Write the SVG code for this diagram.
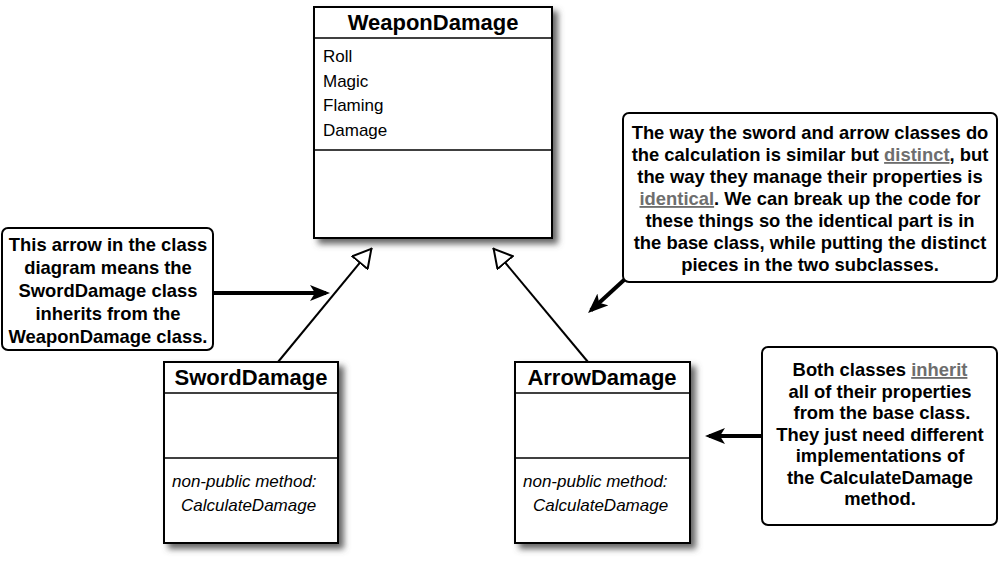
<svg xmlns="http://www.w3.org/2000/svg" width="1000" height="563" viewBox="0 0 1000 563">
  <style>
    .cls { fill: #fff; stroke: #000; stroke-width: 2; }
    .div { stroke: #000; stroke-width: 1.5; }
    .title { font-family: "Liberation Sans", Arial, sans-serif; font-weight: bold; font-size: 22px; text-anchor: middle; fill: #000; }
    .attr { font-family: "Liberation Sans", Arial, sans-serif; font-size: 17px; fill: #000; }
    .meth { font-family: "Liberation Sans", Arial, sans-serif; font-style: italic; font-size: 17px; fill: #000; }
    .callout { fill: #fff; stroke: #000; stroke-width: 2; }
    .note { font-family: "Liberation Sans", Arial, sans-serif; font-weight: bold; font-size: 18.4px; text-anchor: middle; fill: #000; }
    .ul { fill: #6e6e6e; text-decoration: underline; }
    .inh { stroke: #000; stroke-width: 2; fill: none; }
    .thick { stroke: #000; stroke-width: 4; fill: none; }
  </style>
  <defs>
    <filter id="shadow" x="-10%" y="-10%" width="130%" height="130%">
      <feGaussianBlur in="SourceAlpha" stdDeviation="3"/>
      <feOffset dx="5" dy="5" result="b"/>
      <feFlood flood-color="#555" flood-opacity="0.9"/>
      <feComposite in2="b" operator="in"/>
      <feMerge><feMergeNode/><feMergeNode in="SourceGraphic"/></feMerge>
    </filter>
    <marker id="hollow" viewBox="0 0 20 22" refX="20" refY="11" markerWidth="20" markerHeight="22" markerUnits="userSpaceOnUse" orient="auto">
      <path d="M1,1 L19,11 L1,21 Z" fill="#fff" stroke="#000" stroke-width="2"/>
    </marker>
    <marker id="solid" viewBox="0 0 20 16" refX="16" refY="8" markerWidth="20" markerHeight="16" markerUnits="userSpaceOnUse" orient="auto">
      <path d="M0,0 L20,8 L0,16 L5,8 Z" fill="#000"/>
    </marker>
  </defs>

  <g id="connectors">
    <line class="inh" x1="278" y1="362" x2="372" y2="248" marker-end="url(#hollow)"/>
    <line class="inh" x1="588" y1="362" x2="493" y2="248" marker-end="url(#hollow)"/>
    <line class="thick" x1="213" y1="293" x2="326" y2="293" marker-end="url(#solid)"/>
    <line class="thick" x1="624" y1="280" x2="591" y2="310.3" marker-end="url(#solid)"/>
    <line class="thick" x1="762" y1="436" x2="709" y2="436" marker-end="url(#solid)"/>
  </g>

  <g id="WeaponDamage">
    <rect class="cls" x="314" y="7" width="238" height="231" filter="url(#shadow)"/>
    <line class="div" x1="314" y1="38" x2="552" y2="38"/>
    <line class="div" x1="314" y1="150" x2="552" y2="150"/>
    <text class="title" x="433" y="30">WeaponDamage</text>
    <text class="attr" x="323" y="62">Roll</text>
    <text class="attr" x="323" y="86.5">Magic</text>
    <text class="attr" x="323" y="111">Flaming</text>
    <text class="attr" x="323" y="135.5">Damage</text>
  </g>

  <g id="SwordDamage">
    <rect class="cls" x="164" y="362" width="174" height="181" filter="url(#shadow)"/>
    <line class="div" x1="164" y1="393" x2="338" y2="393"/>
    <line class="div" x1="164" y1="458" x2="338" y2="458"/>
    <text class="title" x="251" y="385">SwordDamage</text>
    <text class="meth" x="172" y="487">non-public method:</text>
    <text class="meth" x="181" y="511">CalculateDamage</text>
  </g>

  <g id="ArrowDamage">
    <rect class="cls" x="515" y="362" width="175" height="181" filter="url(#shadow)"/>
    <line class="div" x1="515" y1="393" x2="690" y2="393"/>
    <line class="div" x1="515" y1="458" x2="690" y2="458"/>
    <text class="title" x="602" y="385">ArrowDamage</text>
    <text class="meth" x="523" y="487">non-public method:</text>
    <text class="meth" x="533" y="511">CalculateDamage</text>
  </g>

  <g id="note-left">
    <rect class="callout" x="2" y="228" width="211" height="122" rx="6"/>
    <text class="note" x="108" y="251">This arrow in the class</text>
    <text class="note" x="108" y="274">diagram means the</text>
    <text class="note" x="108" y="297">SwordDamage class</text>
    <text class="note" x="108" y="320">inherits from the</text>
    <text class="note" x="108" y="343">WeaponDamage class.</text>
  </g>

  <g id="note-top-right">
    <rect class="callout" x="623" y="113" width="374" height="169" rx="6"/>
    <text class="note" x="810" y="139">The way the sword and arrow classes do</text>
    <text class="note" x="810" y="161">the calculation is similar but <tspan class="ul">distinct</tspan>, but</text>
    <text class="note" x="810" y="183">the way they manage their properties is</text>
    <text class="note" x="810" y="205"><tspan class="ul">identical</tspan>. We can break up the code for</text>
    <text class="note" x="810" y="227">these things so the identical part is in</text>
    <text class="note" x="810" y="249">the base class, while putting the distinct</text>
    <text class="note" x="810" y="271">pieces in the two subclasses.</text>
  </g>

  <g id="note-bottom-right">
    <rect class="callout" x="762" y="347" width="235" height="178" rx="6"/>
    <text class="note" x="880" y="376">Both classes <tspan class="ul">inherit</tspan></text>
    <text class="note" x="880" y="397.5">all of their properties</text>
    <text class="note" x="882" y="419">from the base class.</text>
    <text class="note" x="880" y="440.5">They just need different</text>
    <text class="note" x="880" y="462">implementations of</text>
    <text class="note" x="880" y="483.5">the CalculateDamage</text>
    <text class="note" x="880" y="505">method.</text>
  </g>
</svg>
